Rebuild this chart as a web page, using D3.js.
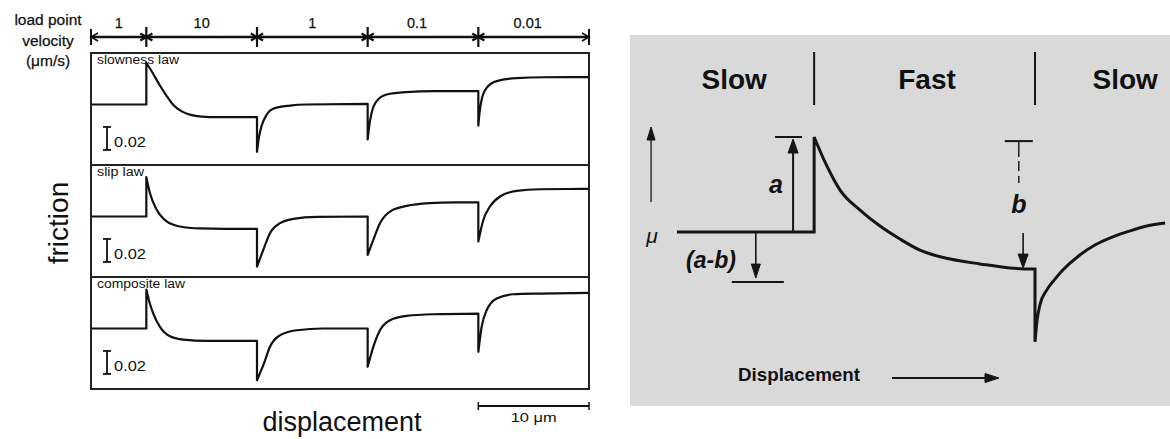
<!DOCTYPE html>
<html>
<head>
<meta charset="utf-8">
<script src="https://cdn.jsdelivr.net/npm/d3@7"></script>
<style>
  html, body { margin: 0; padding: 0; background: #fff; }
  svg { display: block; }
  text { font-family: "Liberation Sans", Arial, Helvetica, sans-serif; fill: #111; }
</style>
</head>
<body>
<svg id="chart" width="1170" height="439"></svg>
<script>
// ---------- Left figure: friction response to load-point velocity steps ----------
// Displacement (μm) where the load-point velocity changes, and the velocity in each interval (μm/s)
const velocityEdges = [0, 5, 15, 25, 35, 45];
const velocityLabels = ["1", "10", "1", "0.1", "0.01"];
const lawNames = ["slowness law", "slip law", "composite law"];

// Friction change relative to steady state at 1 μm/s, against displacement (μm).
// One list of [displacement, Δfriction] per velocity interval.
const slownessLaw = [
  [[0, 0], [5, 0]],
  [[5, 0.0363], [5.6, 0.027], [6.2, 0.017], [6.8, 0.008], [7.4, 0.0], [8.2, -0.006], [9.0, -0.009], [10.0, -0.0105], [11.5, -0.011], [15, -0.011]],
  [[15, -0.0411], [15.15, -0.030], [15.42, -0.0185], [15.88, -0.0087], [16.45, -0.0037], [17.98, -0.0009], [19.5, 0], [25, 0.0005]],
  [[25, -0.0304], [25.12, -0.020], [25.36, -0.0072], [25.81, 0.0030], [26.72, 0.0087], [28.5, 0.0108], [31, 0.0116], [35, 0.0117]],
  [[35, -0.0183], [35.1, -0.008], [35.3, 0.0043], [35.75, 0.0145], [36.66, 0.0203], [38.47, 0.0230], [41, 0.0237], [45, 0.0238]]
];
const slipLaw = [
  [[0, 0], [5, 0]],
  [[5, 0.0342], [5.15, 0.0275], [5.33, 0.0203], [5.94, 0.0058], [6.84, -0.0043], [8.04, -0.0087], [9.85, -0.0104], [12, -0.0108], [15, -0.0108]],
  [[15, -0.0435], [15.57, -0.029], [16.17, -0.0145], [17.08, -0.0058], [18.28, -0.0021], [20.4, -0.0003], [25, 0]],
  [[25, -0.0334], [25.51, -0.0203], [26.11, -0.0058], [27.02, 0.0043], [28.53, 0.0092], [30.63, 0.0116], [33, 0.0123], [35, 0.0124]],
  [[35, -0.0217], [35.45, -0.003], [36.05, 0.0087], [36.96, 0.0174], [38.47, 0.0223], [40.57, 0.0237], [45, 0.024]]
];
const compositeLaw = [
  [[0, 0], [5, 0]],
  [[5, 0.0339], [5.25, 0.024], [5.63, 0.013], [6.23, 0.0015], [7.14, -0.0067], [8.34, -0.0096], [10.45, -0.0107], [15, -0.0107]],
  [[15, -0.045], [15.63, -0.0304], [16.17, -0.0159], [17.08, -0.0058], [18.59, -0.0015], [21, 0], [25, 0]],
  [[25, -0.0333], [25.51, -0.0159], [26.11, -0.0015], [27.02, 0.0072], [28.53, 0.011], [30.94, 0.0124], [35, 0.013]],
  [[35, -0.0203], [35.3, 0.0015], [35.75, 0.0159], [36.66, 0.0261], [38.16, 0.0298], [40.57, 0.0304], [45, 0.031]]
];
const lawSeries = [slownessLaw, slipLaw, compositeLaw];
const frictionScaleBar = 0.02;
const displacementScaleBar = 10; // μm

// ---------- Right figure: schematic of a velocity step ----------
const schematicPhases = ["Slow", "Fast", "Slow"];
const schematicSteps = [34.1, 75.0];
const schematicCurve = [
  [[8.7, 46.9], [34.1, 46.9]],
  [[34.1, 72.5], [36.1, 65.8], [38.9, 58.2], [42.6, 52.8], [46.3, 48.5], [50.0, 45.0], [53.7, 42.0], [59.3, 39.6], [64.8, 38.3], [70.4, 37.2], [75.0, 36.9]],
  [[75.0, 17.3], [75.4, 23.2], [75.9, 27.2], [77.2, 31.3], [78.7, 34.2], [80.2, 36.7], [83.3, 40.7], [86.1, 43.4], [89.4, 45.6], [92.6, 47.2], [95.7, 48.5], [99.1, 49.3]]
];

const svg = d3.select("#chart");

// Join per-interval pieces into one path; velocity steps become vertical jumps.
function steppedPath(segments, line) {
  return segments.map((seg, i) => {
    const d = line(seg);
    return i === 0 ? d : "L" + d.slice(1);
  }).join("");
}

// ================= Left figure =================
const left = svg.append("g");
const plotX0 = 91, plotX1 = 589, plotTop = 53, panelH = 112, barY = 37;
const x = d3.scaleLinear().domain([velocityEdges[0], velocityEdges[velocityEdges.length - 1]]).range([plotX0, plotX1]);

// velocity header
const header = left.append("g").attr("stroke", "#111").attr("stroke-width", 2.4).attr("fill", "none");
header.append("line").attr("x1", x(0)).attr("x2", x(45)).attr("y1", barY).attr("y2", barY);
[[x(0), 1], [x(45), -1]].forEach(([ex, dir]) => {
  header.append("line").attr("x1", ex).attr("x2", ex).attr("y1", barY - 8).attr("y2", barY + 8).attr("stroke-width", 2);
  header.append("path").attr("d", `M${ex + dir * 7},${barY - 4}L${ex},${barY}L${ex + dir * 7},${barY + 4}`).attr("stroke-width", 1.6);
});
velocityEdges.slice(1, -1).forEach(v => {
  const cx = x(v);
  [90, 30, -30].forEach(a => {
    const r = a === 90 ? 10 : 7, t = a * Math.PI / 180;
    header.append("line")
      .attr("x1", cx - r * Math.cos(t)).attr("y1", barY - r * Math.sin(t))
      .attr("x2", cx + r * Math.cos(t)).attr("y2", barY + r * Math.sin(t))
      .attr("stroke-width", 2.2);
  });
});
velocityLabels.forEach((lab, i) => {
  left.append("text")
    .attr("x", x((velocityEdges[i] + velocityEdges[i + 1]) / 2) - (i >= 3 ? 6 : 0))
    .attr("y", 28).attr("text-anchor", "middle").attr("font-size", 14.5)
    .attr("stroke", "#111").attr("stroke-width", 0.25).text(lab);
});
["load point", "velocity", "(μm/s)"].forEach((t, i) => {
  left.append("text").attr("x", 48).attr("y", 25 + i * 20.5)
    .attr("text-anchor", "middle").attr("font-size", 15.5)
    .attr("stroke", "#111").attr("stroke-width", 0.25).text(t);
});

// panels
const line = d3.line().curve(d3.curveMonotoneX);
lawSeries.forEach((series, i) => {
  const top = plotTop + i * panelH;
  const y = d3.scaleLinear().domain([-0.0526, 0.0448]).range([top + panelH, top]);
  line.x(d => x(d[0])).y(d => y(d[1]));
  left.append("path")
    .attr("d", steppedPath(series, line))
    .attr("fill", "none").attr("stroke", "#111").attr("stroke-width", 2.2)
    .attr("stroke-linejoin", "round");

  left.append("text").attr("x", 97).attr("y", top + 11).attr("font-size", 12)
    .attr("textLength", [82, 47, 88][i]).attr("lengthAdjust", "spacingAndGlyphs")
    .text(lawNames[i]);

  // 0.02 friction scale bar
  const by0 = y(-0.0195), by1 = y(-0.0195 - frictionScaleBar);
  const sb = left.append("g").attr("stroke", "#111").attr("stroke-width", 1.8);
  sb.append("line").attr("x1", 107).attr("x2", 107).attr("y1", by0).attr("y2", by1);
  sb.append("line").attr("x1", 103).attr("x2", 111).attr("y1", by0).attr("y2", by0);
  sb.append("line").attr("x1", 103).attr("x2", 111).attr("y1", by1).attr("y2", by1);
  left.append("text").attr("x", 114).attr("y", by1 - 3).attr("font-size", 14)
    .attr("textLength", 32).attr("lengthAdjust", "spacingAndGlyphs").text("0.02");
});

// frame and dividers
left.append("rect").attr("x", plotX0).attr("y", plotTop).attr("width", plotX1 - plotX0).attr("height", panelH * 3)
  .attr("fill", "none").attr("stroke", "#222").attr("stroke-width", 2);
[1, 2].forEach(k => {
  left.append("line").attr("x1", plotX0).attr("x2", plotX1)
    .attr("y1", plotTop + k * panelH).attr("y2", plotTop + k * panelH)
    .attr("stroke", "#222").attr("stroke-width", 2);
});

// axis titles
left.append("text").attr("transform", "translate(68,223) rotate(-90)")
  .attr("text-anchor", "middle").attr("font-size", 28).text("friction");
left.append("text").attr("x", 342).attr("y", 431)
  .attr("text-anchor", "middle").attr("font-size", 27).text("displacement");

// 10 μm displacement scale bar
const sbx0 = x(45 - displacementScaleBar), sbx1 = x(45), sbY = 406;
const ds = left.append("g").attr("stroke", "#111").attr("stroke-width", 2);
ds.append("line").attr("x1", sbx0).attr("x2", sbx1).attr("y1", sbY).attr("y2", sbY);
[sbx0, sbx1].forEach(v => ds.append("line").attr("x1", v).attr("x2", v).attr("y1", sbY - 4).attr("y2", sbY + 4).attr("stroke-width", 1.5));
left.append("text").attr("x", (sbx0 + sbx1) / 2).attr("y", 422).attr("text-anchor", "middle")
  .attr("font-size", 13).attr("textLength", 46).attr("lengthAdjust", "spacingAndGlyphs").text("10 μm");

// ================= Right figure =================
const right = svg.append("g");
const sx = d3.scaleLinear().domain([0, 100]).range([630, 1170]);
const sy = d3.scaleLinear().domain([0, 100]).range([406, 35]);
const ink = "#151515";

right.append("rect").attr("x", sx(0)).attr("y", sy(100)).attr("width", sx(100) - sx(0)).attr("height", sy(0) - sy(100))
  .attr("fill", "#d9d9d9");

function arrowHead(g, tipX, tipY, dir, len, half) {
  // dir: "up" | "down" | "right"
  let d;
  if (dir === "up") d = `M${tipX},${tipY}L${tipX - half},${tipY + len}L${tipX + half},${tipY + len}Z`;
  else if (dir === "down") d = `M${tipX},${tipY}L${tipX - half},${tipY - len}L${tipX + half},${tipY - len}Z`;
  else d = `M${tipX},${tipY}L${tipX - len},${tipY - half}L${tipX - len},${tipY + half}Z`;
  g.append("path").attr("d", d).attr("fill", ink).attr("stroke", ink).attr("stroke-width", 1)
    .attr("stroke-linejoin", "miter");
}

// phase labels and dividers
[19.3, 55.0, 91.7].forEach((px, i) => {
  right.append("text").attr("x", sx(px)).attr("y", 89).attr("text-anchor", "middle")
    .attr("font-size", 28).attr("font-weight", "bold").text(schematicPhases[i]);
});
schematicSteps.forEach(s => {
  right.append("line").attr("x1", sx(s)).attr("x2", sx(s)).attr("y1", 52).attr("y2", 105)
    .attr("stroke", ink).attr("stroke-width", 2);
});

// friction curve
const sline = d3.line().curve(d3.curveMonotoneX).x(d => sx(d[0])).y(d => sy(d[1]));
right.append("path").attr("d", steppedPath(schematicCurve, sline))
  .attr("fill", "none").attr("stroke", ink).attr("stroke-width", 3).attr("stroke-linejoin", "miter");

// μ axis arrow
const muX = sx(3.9);
right.append("line").attr("x1", muX).attr("x2", muX).attr("y1", sy(55.0)).attr("y2", sy(72))
  .attr("stroke", ink).attr("stroke-width", 1.3);
arrowHead(right, muX, sy(75.2), "up", 13, 4);
right.append("text").attr("x", 652).attr("y", 243).attr("text-anchor", "middle")
  .attr("font-size", 21).attr("font-style", "italic").text("μ");

// a: direct effect
const baseY = sy(schematicCurve[0][0][1]), peakY = sy(schematicCurve[1][0][1]);
const aX = sx(30.2);
right.append("line").attr("x1", aX).attr("x2", aX).attr("y1", baseY).attr("y2", peakY + 10)
  .attr("stroke", ink).attr("stroke-width", 2);
arrowHead(right, aX, peakY + 2, "up", 14, 5);
right.append("line").attr("x1", aX - 18).attr("x2", aX + 9).attr("y1", peakY).attr("y2", peakY)
  .attr("stroke", ink).attr("stroke-width", 2);
right.append("text").attr("x", 776).attr("y", 193).attr("text-anchor", "middle")
  .attr("font-size", 25).attr("font-weight", "bold").attr("font-style", "italic").text("a");

// (a-b): steady-state change
const abX = sx(23.3), abBar = sy(33.4);
right.append("line").attr("x1", abX).attr("x2", abX).attr("y1", baseY).attr("y2", abBar - 12)
  .attr("stroke", ink).attr("stroke-width", 1.6);
arrowHead(right, abX, abBar - 4, "down", 14, 4.5);
right.append("line").attr("x1", abX - 24).attr("x2", abX + 28).attr("y1", abBar).attr("y2", abBar)
  .attr("stroke", ink).attr("stroke-width", 2);
right.append("text").attr("x", 711).attr("y", 268).attr("text-anchor", "middle")
  .attr("font-size", 23).attr("font-weight", "bold").attr("font-style", "italic").text("(a-b)");

// b: evolution effect
const bX = sx(72.0), bTop = sy(71.4);
right.append("line").attr("x1", bX - 14).attr("x2", bX + 14).attr("y1", bTop).attr("y2", bTop)
  .attr("stroke", ink).attr("stroke-width", 2);
right.append("line").attr("x1", bX).attr("x2", bX).attr("y1", bTop).attr("y2", bTop + 42)
  .attr("stroke", ink).attr("stroke-width", 1.4).attr("stroke-dasharray", "16,4,10,5");
right.append("text").attr("x", bX).attr("y", 213).attr("text-anchor", "middle")
  .attr("font-size", 25).attr("font-weight", "bold").attr("font-style", "italic").text("b");
const bArrowX = sx(72.8), bLevel = sy(schematicCurve[1][schematicCurve[1].length - 1][1]);
right.append("line").attr("x1", bArrowX).attr("x2", bArrowX).attr("y1", sy(46.6)).attr("y2", bLevel - 10)
  .attr("stroke", ink).attr("stroke-width", 1.6);
arrowHead(right, bArrowX, bLevel - 1, "down", 14, 5);

// displacement label and arrow
right.append("text").attr("x", 738).attr("y", 381).attr("font-size", 18).attr("font-weight", "bold")
  .attr("textLength", 122).attr("lengthAdjust", "spacingAndGlyphs").text("Displacement");
right.append("line").attr("x1", 892).attr("x2", 988).attr("y1", 378).attr("y2", 378)
  .attr("stroke", ink).attr("stroke-width", 1.8);
arrowHead(right, 999, 378, "right", 14, 4.5);
</script>
</body>
</html>
